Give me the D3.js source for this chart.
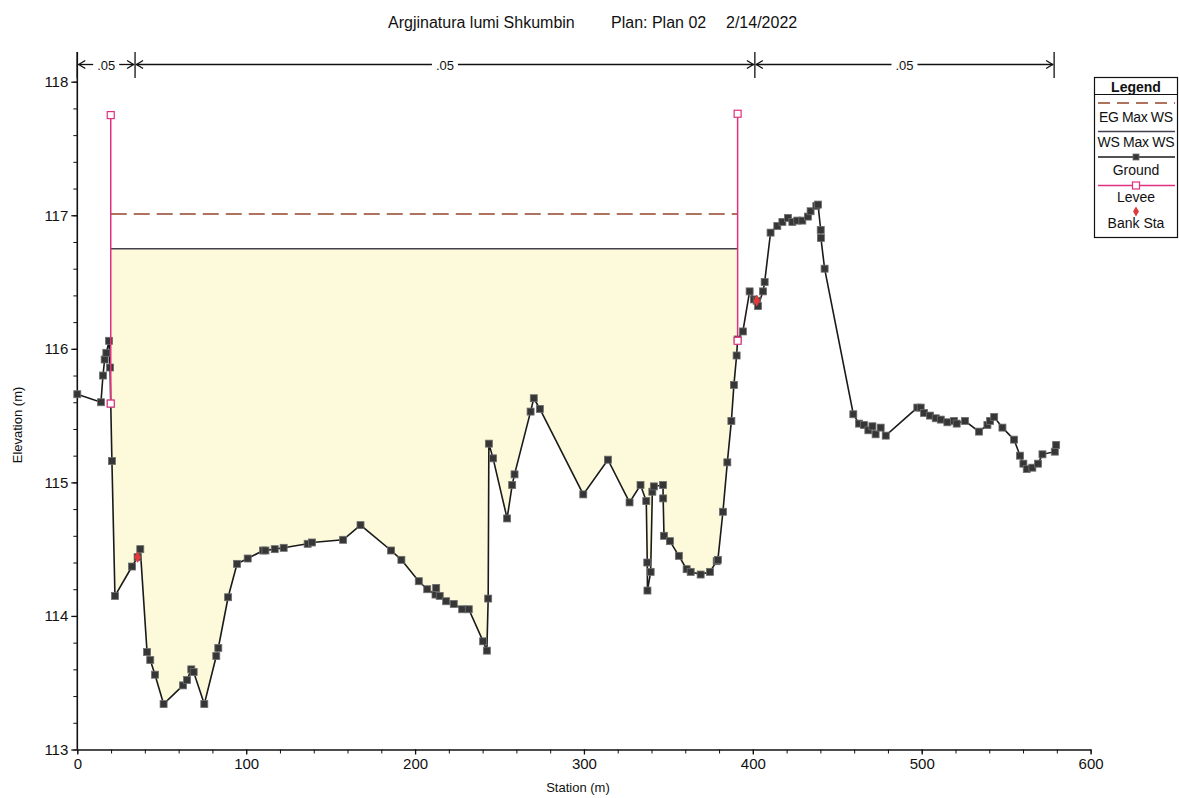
<!DOCTYPE html>
<head>
  <style>
    body { margin: 0; background: #fff; }
    text { font-family: "Liberation Sans", Arial, sans-serif; fill: #111; }
  </style>
  <title>Argjinatura lumi Shkumbin</title>
</head>
<body>
  <script src="https://cdn.jsdelivr.net/npm/d3@7"></script>
  <script>
    // cross section data (station m, elevation m)
    var groundSta = [0, 14.0, 15.2, 16.2, 17.2, 18.8, 19.4, 19.8, 20.5, 22.3, 32.4, 35.7, 37.3,
      41.3, 43.2, 46.0, 51.1, 62.6, 65.0, 67.5, 68.9, 75.2, 82.3, 83.5, 89.3, 94.6, 100.9,
      110.0, 111.4, 116.9, 122.2, 136.4, 139.0, 157.4, 167.7, 185.8, 191.9, 202.2, 207.2,
      212.1, 212.5, 214.6, 218.4, 222.9, 227.9, 231.8, 240.3, 242.5, 243.3, 243.7, 246.2,
      254.5, 257.5, 258.9, 268.4, 270.3, 273.9, 299.6, 314.2, 327.0, 333.5, 336.9, 337.5,
      337.6, 339.5, 340.5, 341.4, 346.8, 346.9, 347.4, 350.9, 356.2, 360.8, 363.2, 369.1,
      374.6, 378.6, 379.3, 382.3, 384.9, 387.3, 388.8, 390.4, 391.0, 394.1, 398.1, 400.7,
      402.3, 403.1, 406.0, 407.0, 410.5, 414.5, 417.5, 420.8, 423.4, 426.3, 429.3, 432.6,
      434.2, 437.6, 438.6, 440.2, 440.3, 442.5, 459.5, 462.9, 465.8, 468.4, 470.8, 472.7,
      475.7, 478.7, 497.4, 499.4, 501.4, 504.9, 508.3, 511.3, 515.2, 519.1, 520.7, 525.6,
      533.9, 538.9, 540.5, 542.9, 547.8, 554.7, 558.2, 560.2, 562.2, 565.5, 568.9, 571.5,
      578.8, 579.6];
    var groundElev = [115.66, 115.60, 115.80, 115.92, 115.97, 116.06, 115.86, 115.59, 115.16, 114.15, 114.37, 114.44, 114.50,
      113.73, 113.67, 113.56, 113.34, 113.48, 113.52, 113.60, 113.58, 113.34, 113.70, 113.76, 114.14, 114.39, 114.43,
      114.49, 114.49, 114.50, 114.51, 114.54, 114.55, 114.57, 114.68, 114.49, 114.42, 114.26, 114.20,
      114.16, 114.21, 114.15, 114.11, 114.09, 114.05, 114.05, 113.81, 113.74, 114.13, 115.29, 115.18,
      114.73, 114.98, 115.06, 115.53, 115.63, 115.55, 114.91, 115.17, 114.85, 114.98, 114.86, 114.40,
      114.19, 114.33, 114.93, 114.97, 114.98, 114.88, 114.60, 114.56, 114.45, 114.35, 114.33, 114.31,
      114.33, 114.41, 114.42, 114.78, 115.15, 115.46, 115.73, 115.95, 116.07, 116.13, 116.43, 116.37,
      116.36, 116.32, 116.43, 116.50, 116.87, 116.92, 116.95, 116.98, 116.95, 116.96, 116.96, 116.99,
      117.03, 117.07, 117.08, 116.89, 116.83, 116.60, 115.51, 115.44, 115.43, 115.39, 115.42, 115.36,
      115.41, 115.35, 115.56, 115.56, 115.52, 115.50, 115.48, 115.47, 115.45, 115.46, 115.44, 115.46,
      115.38, 115.43, 115.46, 115.49, 115.41, 115.32, 115.20, 115.14, 115.10, 115.11, 115.14, 115.21,
      115.23, 115.28];

    var leveeSta = [19.8, 391.0];
    var leveeTop = [117.75, 117.76];
    var leveeBase = [115.59, 116.06];

    var bankSta = [35.7, 402.3];
    var bankElev = [114.44, 116.36];

    var wsElev = 116.75;   // WS Max WS
    var egElev = 117.01;   // EG Max WS

    var nStations = [0, 34.2, 401.2, 578.4];
    var nValues = [".05", ".05", ".05"];

    var xTicks = [0, 100, 200, 300, 400, 500, 600];
    var yTicks = [113, 114, 115, 116, 117, 118];

    var width = 1179, height = 798;

    var x = d3.scaleLinear().domain([0, 600]).range([77.3, 1090.6]);
    var y = d3.scaleLinear().domain([113, 118]).range([749.5, 81.7]);

    var svg = d3.select("body").append("svg")
      .attr("width", width)
      .attr("height", height);

    // water fill between levees
    svg.append("clipPath").attr("id", "leveeClip")
      .append("rect")
      .attr("x", x(leveeSta[0])).attr("y", 0)
      .attr("width", x(leveeSta[1]) - x(leveeSta[0]))
      .attr("height", height);

    var pts = groundSta.map(function(s, i) { return [s, groundElev[i]]; });

    var area = d3.area()
      .x(function(d) { return x(d[0]); })
      .y0(function(d) { return y(d[1]); })
      .y1(function() { return y(wsElev); });

    svg.append("path")
      .datum(pts)
      .attr("clip-path", "url(#leveeClip)")
      .attr("fill", "#fcfadb")
      .attr("d", area);

    // EG and WS lines
    svg.append("line")
      .attr("x1", x(leveeSta[0])).attr("x2", x(leveeSta[1]))
      .attr("y1", y(egElev)).attr("y2", y(egElev))
      .attr("stroke", "#93452a").attr("stroke-width", 1.5)
      .attr("stroke-dasharray", "16,7");

    svg.append("line")
      .attr("x1", x(leveeSta[0])).attr("x2", x(leveeSta[1]))
      .attr("y1", y(wsElev)).attr("y2", y(wsElev))
      .attr("stroke", "#45404f").attr("stroke-width", 1.5);

    // Y axis
    var yMinor = d3.range(113, 118.01, 0.2);
    svg.append("g")
      .attr("transform", "translate(" + x(0) + ",0)")
      .call(d3.axisLeft(y).tickValues(yMinor).tickSize(4).tickFormat(""))
      .call(function(g) { g.select(".domain").remove(); g.selectAll("line").attr("stroke", "#111"); });
    var yAxis = svg.append("g")
      .attr("transform", "translate(" + x(0) + ",0)")
      .call(d3.axisLeft(y).tickValues(yTicks).tickSize(6).tickSizeOuter(0).tickPadding(3).tickFormat(d3.format("d")));
    yAxis.select(".domain").remove();
    yAxis.selectAll("line").attr("stroke", "#111").attr("stroke-width", 1.3);
    yAxis.selectAll("text").attr("font-size", 15).attr("font-family", "Liberation Sans, Arial, sans-serif").attr("fill", "#111");
    svg.append("line")
      .attr("x1", x(0)).attr("x2", x(0))
      .attr("y1", 52).attr("y2", y(113))
      .attr("stroke", "#111").attr("stroke-width", 1.6);

    // X axis
    var xMinor = d3.range(0, 601, 20);
    svg.append("g")
      .attr("transform", "translate(0," + y(113) + ")")
      .call(d3.axisBottom(x).tickValues(xMinor).tickSize(4).tickFormat(""))
      .call(function(g) { g.select(".domain").remove(); g.selectAll("line").attr("stroke", "#111"); });
    var xAxis = svg.append("g")
      .attr("transform", "translate(0," + y(113) + ")")
      .call(d3.axisBottom(x).tickValues(xTicks).tickSize(5).tickSizeOuter(0).tickPadding(4).tickFormat(d3.format("d")));
    xAxis.select(".domain").attr("stroke", "#111").attr("stroke-width", 1.6);
    xAxis.selectAll("line").attr("stroke", "#111").attr("stroke-width", 1.3);
    xAxis.selectAll("text").attr("font-size", 15).attr("font-family", "Liberation Sans, Arial, sans-serif").attr("fill", "#111");

    // axis labels
    svg.append("text")
      .attr("x", 578).attr("y", 792)
      .attr("text-anchor", "middle")
      .attr("font-size", 13)
      .text("Station (m)");

    svg.append("text")
      .attr("transform", "translate(22,425) rotate(-90)")
      .attr("text-anchor", "middle")
      .attr("font-size", 13)
      .text("Elevation (m)");

    // title
    svg.append("text").attr("x", 388).attr("y", 28).attr("font-size", 16).text("Argjinatura lumi Shkumbin");
    svg.append("text").attr("x", 611).attr("y", 28).attr("font-size", 16).text("Plan: Plan 02");
    svg.append("text").attr("x", 726).attr("y", 28).attr("font-size", 16).text("2/14/2022");

    // Manning's n brackets
    var nY = 64.5;
    var nG = svg.append("g").attr("stroke", "#111").attr("fill", "none").attr("stroke-width", 1.3);
    nStations.forEach(function(s) {
      nG.append("line")
        .attr("x1", x(s)).attr("x2", x(s))
        .attr("y1", 52).attr("y2", 78);
    });
    nValues.forEach(function(v, i) {
      var a = x(nStations[i]), b = x(nStations[i + 1]);
      var mid = (a + b) / 2, half = 13;
      nG.append("line").attr("x1", a + 1).attr("x2", mid - half).attr("y1", nY).attr("y2", nY);
      nG.append("line").attr("x1", mid + half).attr("x2", b - 1).attr("y1", nY).attr("y2", nY);
      nG.append("path").attr("d", "M" + (a + 8) + "," + (nY - 4) + "L" + (a + 1.5) + "," + nY + "L" + (a + 8) + "," + (nY + 4));
      nG.append("path").attr("d", "M" + (b - 8) + "," + (nY - 4) + "L" + (b - 1.5) + "," + nY + "L" + (b - 8) + "," + (nY + 4));
      svg.append("text")
        .attr("x", mid).attr("y", nY + 5)
        .attr("text-anchor", "middle")
        .attr("font-size", 13)
        .text(v);
    });

    // ground line and points
    var line = d3.line()
      .x(function(d) { return x(d[0]); })
      .y(function(d) { return y(d[1]); });

    svg.append("path")
      .datum(pts)
      .attr("fill", "none")
      .attr("stroke", "#1a1a1a")
      .attr("stroke-width", 1.6)
      .attr("d", line);

    svg.selectAll(".gpt")
      .data(pts)
      .enter().append("rect")
      .attr("class", "gpt")
      .attr("x", function(d) { return x(d[0]) - 3.5; })
      .attr("y", function(d) { return y(d[1]) - 3.5; })
      .attr("width", 7).attr("height", 7)
      .attr("fill", "#363636")
      .attr("stroke", "#6e6e6e")
      .attr("stroke-width", 0.8);

    // levees
    leveeSta.forEach(function(s, i) {
      svg.append("line")
        .attr("x1", x(s)).attr("x2", x(s))
        .attr("y1", y(leveeTop[i])).attr("y2", y(leveeBase[i]))
        .attr("stroke", "#e0307f").attr("stroke-width", 1.5);
      [leveeTop[i], leveeBase[i]].forEach(function(e) {
        svg.append("rect")
          .attr("x", x(s) - 3.5).attr("y", y(e) - 3.5)
          .attr("width", 7).attr("height", 7)
          .attr("fill", "#fff").attr("stroke", "#e0307f").attr("stroke-width", 1.2);
      });
    });

    // bank stations
    bankSta.forEach(function(s, i) {
      svg.append("path")
        .attr("transform", "translate(" + x(s) + "," + y(bankElev[i]) + ")")
        .attr("d", d3.symbol().type(d3.symbolDiamond).size(40))
        .attr("fill", "#e03a3a");
    });

    // legend
    var lg = svg.append("g");
    lg.append("rect")
      .attr("x", 1094.5).attr("y", 77.5).attr("width", 83).attr("height", 160)
      .attr("fill", "#fff").attr("stroke", "#111").attr("stroke-width", 1.2);
    lg.append("line").attr("x1", 1094.5).attr("x2", 1177.5).attr("y1", 94.5).attr("y2", 94.5)
      .attr("stroke", "#111").attr("stroke-width", 1);
    lg.append("text").attr("x", 1136).attr("y", 91.5).attr("text-anchor", "middle")
      .attr("font-size", 14).attr("font-weight", "bold").text("Legend");

    var lx1 = 1098, lx2 = 1175, lcx = 1136;
    lg.append("line").attr("x1", lx1).attr("x2", lx2).attr("y1", 103).attr("y2", 103)
      .attr("stroke", "#93452a").attr("stroke-width", 1.3).attr("stroke-dasharray", "12,7");
    lg.append("text").attr("x", lcx).attr("y", 122).attr("text-anchor", "middle").attr("font-size", 14).attr("textLength", 74).text("EG Max WS");

    lg.append("line").attr("x1", lx1).attr("x2", lx2).attr("y1", 131.5).attr("y2", 131.5)
      .attr("stroke", "#45404f").attr("stroke-width", 1.4);
    lg.append("text").attr("x", lcx).attr("y", 146.5).attr("text-anchor", "middle").attr("font-size", 14).attr("textLength", 77).text("WS Max WS");

    lg.append("line").attr("x1", lx1).attr("x2", lx2).attr("y1", 157).attr("y2", 157)
      .attr("stroke", "#1a1a1a").attr("stroke-width", 1.4);
    lg.append("rect").attr("x", lcx - 3).attr("y", 154).attr("width", 6).attr("height", 6)
      .attr("fill", "#363636").attr("stroke", "#6e6e6e").attr("stroke-width", 0.8);
    lg.append("text").attr("x", lcx).attr("y", 175).attr("text-anchor", "middle").attr("font-size", 14).text("Ground");

    lg.append("line").attr("x1", lx1).attr("x2", lx2).attr("y1", 185.5).attr("y2", 185.5)
      .attr("stroke", "#e0307f").attr("stroke-width", 1.4);
    lg.append("rect").attr("x", lcx - 3.5).attr("y", 182).attr("width", 7).attr("height", 7)
      .attr("fill", "#fff").attr("stroke", "#e0307f").attr("stroke-width", 1.2);
    lg.append("text").attr("x", lcx).attr("y", 202).attr("text-anchor", "middle").attr("font-size", 14).text("Levee");

    lg.append("path")
      .attr("transform", "translate(" + lcx + ",211.5)")
      .attr("d", d3.symbol().type(d3.symbolDiamond).size(30))
      .attr("fill", "#e03a3a");
    lg.append("text").attr("x", lcx).attr("y", 228).attr("text-anchor", "middle").attr("font-size", 14).text("Bank Sta");
  </script>
</body>
